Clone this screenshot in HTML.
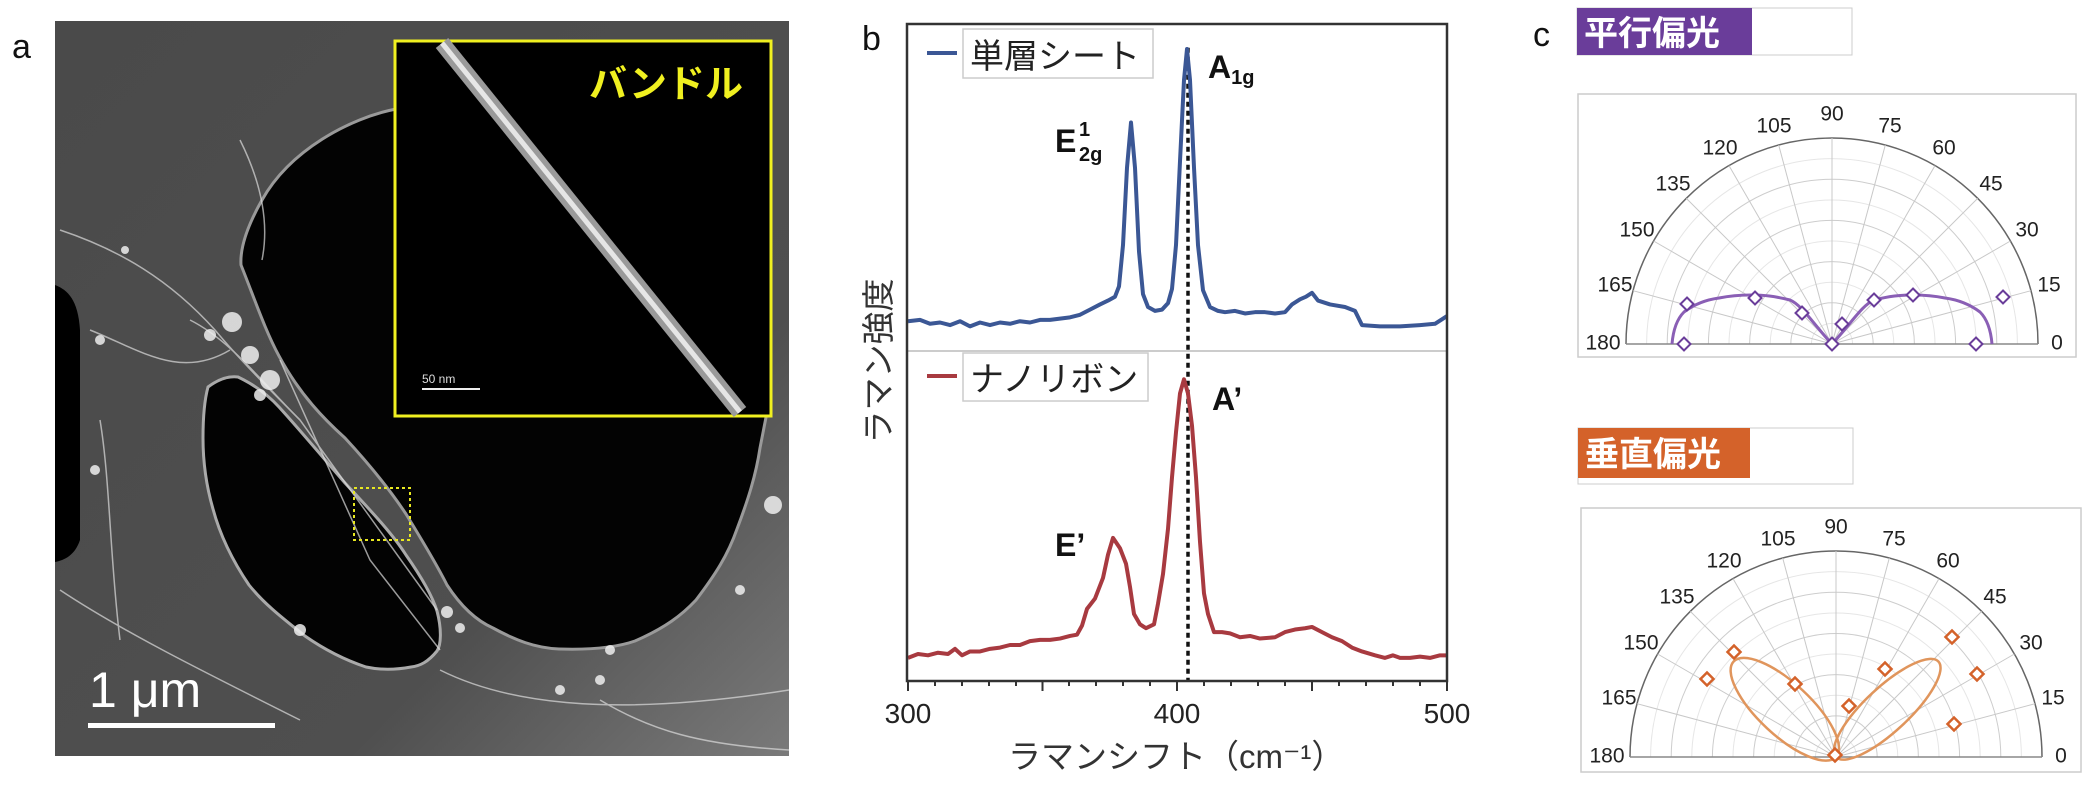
<!DOCTYPE html>
<html><head><meta charset="utf-8"><style>
html,body{margin:0;padding:0;background:#fff;}
svg{display:block;font-family:"Liberation Sans","Noto Sans CJK JP",sans-serif;}
</style></head><body>
<svg width="2098" height="798" viewBox="0 0 2098 798" xmlns="http://www.w3.org/2000/svg">
<defs>
<clipPath id="ca"><rect x="55" y="21" width="734" height="735"/></clipPath>
<linearGradient id="gg" x1="0" y1="0" x2="1" y2="1"><stop offset="0" stop-color="#4a4a4a"/><stop offset="0.7" stop-color="#4f4f4f"/><stop offset="1" stop-color="#7a7a7a"/></linearGradient>
</defs>
<!-- Panel a -->
<text x="12" y="58" font-size="34" fill="#111">a</text>
<g clip-path="url(#ca)">
<rect x="55" y="21" width="734" height="735" fill="url(#gg)"/>
<path d="M55,285 C68,290 78,300 80,330 L80,540 C75,555 65,560 55,562 Z" fill="#000"/>
<path d="M396,109 C350,118 290,150 262,200 C245,230 240,250 241,265 C255,300 265,330 279,356 C300,395 325,420 345,438 C370,465 390,490 406,514 C425,545 437,565 447,585 C460,605 475,620 493,628 C515,640 535,648 559,649 C590,650 615,648 635,641 C665,628 682,615 696,600 C715,575 728,555 737,529 C748,500 756,475 760,448 L768,407 L768,102 Z" fill="#030303" stroke="#9a9a9a" stroke-width="3"/>
<path d="M208,387 C220,378 230,376 238,377 C255,385 268,395 279,407 C300,430 325,460 345,483 C370,510 392,533 406,555 C420,575 432,595 437,611 C442,630 441,645 437,651 C428,662 420,666 411,667 C395,670 380,670 366,667 C345,660 325,650 305,636 C285,620 265,605 249,585 C232,560 220,535 213,509 C206,485 203,460 203,438 C203,415 205,398 208,387 Z" fill="#030303" stroke="#aaa" stroke-width="3"/>
<g stroke="#ddd" fill="none" stroke-width="1.5" opacity="0.7">
<path d="M60,230 C120,250 170,280 215,330 C240,360 270,390 300,420"/>
<path d="M90,330 C140,350 180,380 230,350"/>
<path d="M190,320 C230,340 260,380 300,420 L437,610"/>
<path d="M60,590 C120,630 200,670 300,720"/>
<path d="M440,670 C500,700 600,720 789,690"/>
<path d="M100,420 C110,480 110,560 120,640"/>
<path d="M240,140 C260,180 270,220 262,260"/>
<path d="M600,700 C650,730 700,745 789,750"/>
<path d="M280,360 L370,560 L440,650"/>
</g>
<g fill="#eee" opacity="0.85">
<circle cx="232" cy="322" r="10"/><circle cx="250" cy="355" r="9"/><circle cx="270" cy="380" r="10"/><circle cx="260" cy="395" r="6"/>
<circle cx="210" cy="335" r="6"/><circle cx="773" cy="505" r="9"/><circle cx="447" cy="612" r="6"/><circle cx="460" cy="628" r="5"/>
<circle cx="300" cy="630" r="6"/><circle cx="740" cy="590" r="5"/><circle cx="560" cy="690" r="5"/><circle cx="600" cy="680" r="5"/>
<circle cx="100" cy="340" r="5"/><circle cx="95" cy="470" r="5"/><circle cx="125" cy="250" r="4"/><circle cx="610" cy="650" r="5"/>
</g>
<rect x="395" y="41" width="376" height="375" fill="#000" stroke="#f0f020" stroke-width="3"/>
<path d="M442,43 L740,412" stroke="#9a9a9a" stroke-width="16"/>
<path d="M442,43 L740,412" stroke="#e6e6e6" stroke-width="5"/>
<text x="666" y="97" font-size="38" font-weight="bold" fill="#f0f020" text-anchor="middle">バンドル</text>
<text x="422" y="383" font-size="12" fill="#ddd">50 nm</text>
<rect x="422" y="388" width="58" height="2" fill="#eee"/>
<rect x="354" y="488" width="56" height="52" fill="none" stroke="#e8e820" stroke-width="2" stroke-dasharray="3,3"/>
<text x="89" y="707" font-size="50" fill="#fff">1 μm</text>
<rect x="88" y="723" width="187" height="5" fill="#fff"/>
</g>
<!-- Panel b -->
<text x="862" y="50" font-size="34" fill="#111">b</text>
<line x1="907" y1="351" x2="1447" y2="351" stroke="#bbb" stroke-width="1.5"/>
<g transform="scale(1,1.29)" fill="none" stroke-linejoin="round">
<line x1="1188" y1="37" x2="1188" y2="528" stroke="#111" stroke-width="3.5" stroke-dasharray="5,4" vector-effect="non-scaling-stroke"/>
<polyline stroke="#3b5795" stroke-width="4" vector-effect="non-scaling-stroke" points="908,249 920,248 930,251 940,250 950,252 960,249 970,253 980,250 990,252 1000,250 1010,251 1020,249 1030,250 1040,248 1050,248 1060,247 1070,246 1080,244 1090,240 1100,236 1108,233 1115,230 1119,222 1123,190 1127,130 1131,95 1135,130 1139,195 1143,228 1148,238 1155,241 1162,240 1168,235 1172,224 1176,190 1180,125 1184,62 1187,38 1190,62 1194,130 1198,190 1203,225 1210,238 1218,241 1225,242 1235,241 1245,243 1255,242 1265,242 1275,243 1285,242 1292,236 1300,232 1306,230 1312,227 1318,233 1330,236 1345,238 1355,241 1362,252 1380,253 1400,253 1420,252 1435,251 1447,245"/>
<polyline stroke="#a83a40" stroke-width="4" vector-effect="non-scaling-stroke" points="908,510 918,507 928,508 938,506 948,507 955,503 962,508 970,505 980,505 990,503 1000,502 1010,500 1020,500 1030,497 1040,496 1050,496 1060,495 1070,493 1077,492 1082,485 1087,472 1095,464 1103,448 1108,430 1113,417 1120,425 1126,437 1130,455 1134,476 1140,484 1146,487 1154,484 1158,468 1163,445 1168,410 1172,370 1176,335 1180,305 1184,294 1188,305 1192,330 1196,370 1200,420 1204,460 1208,476 1214,490 1222,490 1230,491 1240,494 1250,493 1260,495 1275,494 1285,490 1295,488 1305,487 1312,486 1322,490 1332,494 1342,497 1352,502 1362,505 1375,508 1385,510 1393,508 1400,510 1410,510 1420,509 1430,510 1440,508 1447,508"/>
</g>
<rect x="907" y="24" width="540" height="657" fill="none" stroke="#333" stroke-width="2.5"/>
<g stroke="#333" stroke-width="2">
<line x1="908" y1="681" x2="908" y2="691"/><line x1="1042.5" y1="681" x2="1042.5" y2="691"/><line x1="1177" y1="681" x2="1177" y2="691"/><line x1="1312" y1="681" x2="1312" y2="691"/><line x1="1447" y1="681" x2="1447" y2="691"/>
<line x1="935" y1="681" x2="935" y2="686"/><line x1="962" y1="681" x2="962" y2="686"/><line x1="989" y1="681" x2="989" y2="686"/><line x1="1016" y1="681" x2="1016" y2="686"/>
<line x1="1069" y1="681" x2="1069" y2="686"/><line x1="1096" y1="681" x2="1096" y2="686"/><line x1="1123" y1="681" x2="1123" y2="686"/><line x1="1150" y1="681" x2="1150" y2="686"/>
<line x1="1204" y1="681" x2="1204" y2="686"/><line x1="1231" y1="681" x2="1231" y2="686"/><line x1="1258" y1="681" x2="1258" y2="686"/><line x1="1285" y1="681" x2="1285" y2="686"/>
<line x1="1339" y1="681" x2="1339" y2="686"/><line x1="1366" y1="681" x2="1366" y2="686"/><line x1="1393" y1="681" x2="1393" y2="686"/><line x1="1420" y1="681" x2="1420" y2="686"/>
</g>
<rect x="963" y="29" width="190" height="49" fill="#fff" stroke="#ccc" stroke-width="1.5"/>
<line x1="927" y1="53" x2="957" y2="53" stroke="#3b5795" stroke-width="4"/>
<text x="970" y="68" font-size="34" fill="#222">単層シート</text>
<rect x="963" y="353" width="185" height="48" fill="#fff" stroke="#ccc" stroke-width="1.5"/>
<line x1="927" y1="376" x2="957" y2="376" stroke="#a83a40" stroke-width="4"/>
<text x="970" y="391" font-size="34" fill="#222">ナノリボン</text>
<text x="1208" y="78" font-size="32" font-weight="bold" fill="#111">A<tspan font-size="20" dy="6">1g</tspan></text>
<text x="1055" y="152" font-size="32" font-weight="bold" fill="#111">E</text>
<text x="1079" y="136" font-size="20" font-weight="bold" fill="#111">1</text>
<text x="1079" y="161" font-size="20" font-weight="bold" fill="#111">2g</text>
<text x="1212" y="410" font-size="32" font-weight="bold" fill="#111">A’</text>
<text x="1055" y="556" font-size="32" font-weight="bold" fill="#111">E’</text>
<text x="908" y="723" font-size="28" fill="#222" text-anchor="middle">300</text>
<text x="1177" y="723" font-size="28" fill="#222" text-anchor="middle">400</text>
<text x="1447" y="723" font-size="28" fill="#222" text-anchor="middle">500</text>
<text x="1008" y="768" font-size="33" fill="#333">ラマンシフト（cm⁻¹）</text>
<text transform="translate(890,361) rotate(-90)" font-size="33" fill="#333" text-anchor="middle">ラマン強度</text>
<!-- Panel c -->
<text x="1533" y="46" font-size="34" fill="#111">c</text>
<rect x="1577" y="8" width="275" height="47" fill="#fff" stroke="#ccc"/>
<rect x="1577" y="8" width="175" height="47" fill="#6a3d9a"/>
<text x="1584" y="45" font-size="34" font-weight="bold" fill="#fff">平行偏光</text>
<rect x="1578" y="428" width="275" height="56" fill="#fff" stroke="#ccc"/>
<rect x="1578" y="428" width="172" height="50" fill="#d4622a"/>
<text x="1585" y="466" font-size="34" font-weight="bold" fill="#fff">垂直偏光</text>
<rect x="1578" y="94" width="498" height="263" fill="#fff" stroke="#ccc" stroke-width="1.5"/>
<rect x="1581" y="508" width="500" height="264" fill="#fff" stroke="#ccc" stroke-width="1.5"/>
<g id="p1"></g><g id="p2"></g>
<g font-size="21" fill="#222" text-anchor="middle" dominant-baseline="middle">
<text x="2057" y="344">0</text><text x="2049" y="286">15</text><text x="2027" y="231">30</text><text x="1991" y="185">45</text>
<text x="1944" y="149">60</text><text x="1890" y="127">75</text><text x="1832" y="115">90</text><text x="1774" y="127">105</text>
<text x="1720" y="149">120</text><text x="1673" y="185">135</text><text x="1637" y="231">150</text><text x="1615" y="286">165</text>
<text x="1603" y="344">180</text>
<text x="2061" y="757">0</text><text x="2053" y="699">15</text><text x="2031" y="644">30</text><text x="1995" y="598">45</text>
<text x="1948" y="562">60</text><text x="1894" y="540">75</text><text x="1836" y="528">90</text><text x="1778" y="540">105</text>
<text x="1724" y="562">120</text><text x="1677" y="598">135</text><text x="1641" y="644">150</text><text x="1619" y="699">165</text>
<text x="1607" y="757">180</text>
</g>
<path d="M1832,344 C1850,325 1862,305 1874,300 C1890,296 1900,295 1913,295 C1925,295 1935,296 1945,298 C1960,300 1972,306 1980,312 C1988,320 1991,332 1992,344" fill="none" stroke="#8a5fb5" stroke-width="3"/>
<path d="M1832,344 C1814,325 1802,305 1790,300 C1774,296 1764,295 1751,295 C1739,295 1729,296 1719,298 C1704,300 1692,306 1684,312 C1676,320 1673,332 1672,344" fill="none" stroke="#8a5fb5" stroke-width="3"/>
<g id="m1" fill="#fff" stroke="#6a3d9a" stroke-width="2"></g>
<g transform="translate(1836,757) rotate(-43)"><ellipse cx="70" cy="0" rx="70" ry="22" fill="none" stroke="#e0955c" stroke-width="2.5"/></g>
<g transform="translate(1836,757) rotate(-137)"><ellipse cx="70" cy="0" rx="70" ry="26" fill="none" stroke="#e0955c" stroke-width="2.5"/></g>
<g id="m2" fill="#fff" stroke="#d4622a" stroke-width="2.5"></g>
</svg>
<script>
var NS="http://www.w3.org/2000/svg";
function el(p,t,a){var e=document.createElementNS(NS,t);for(var k in a)e.setAttribute(k,a[k]);p.appendChild(e);return e;}
function polar(id,cx,cy){var g=document.getElementById(id),R=206;
for(var i=1;i<=10;i++){var r=R*i/10;el(g,'path',{d:'M'+(cx-r)+','+cy+' A'+r+','+r+' 0 0 1 '+(cx+r)+','+cy,fill:'none',stroke:i==10?'#666':(i%2?'#e6e6e6':'#cdcdcd'),'stroke-width':i==10?1.5:1});}
for(var a=0;a<=180;a+=15){var t=a*Math.PI/180;el(g,'line',{x1:cx,y1:cy,x2:cx+R*Math.cos(t),y2:cy-R*Math.sin(t),stroke:'#c8c8c8','stroke-width':1});}
el(g,'line',{x1:cx-R,y1:cy,x2:cx+R,y2:cy,stroke:'#888','stroke-width':1.5});}
polar('p1',1832,344);polar('p2',1836,757);
function mk(id,pts){var g=document.getElementById(id);pts.forEach(function(p){var s=6.5;el(g,'path',{d:'M'+p[0]+','+(p[1]-s)+' L'+(p[0]+s)+','+p[1]+' L'+p[0]+','+(p[1]+s)+' L'+(p[0]-s)+','+p[1]+' Z'});});}
mk('m1',[[1687,304],[1755,298],[1802,313],[1842,324],[1832,344],[1874,300],[1913,295],[2003,297],[1976,344],[1684,344]]);
mk('m2',[[1734,652],[1707,679],[1795,684],[1849,706],[1885,669],[1952,637],[1977,674],[1954,724],[1835,755]]);
</script>
</body></html>
